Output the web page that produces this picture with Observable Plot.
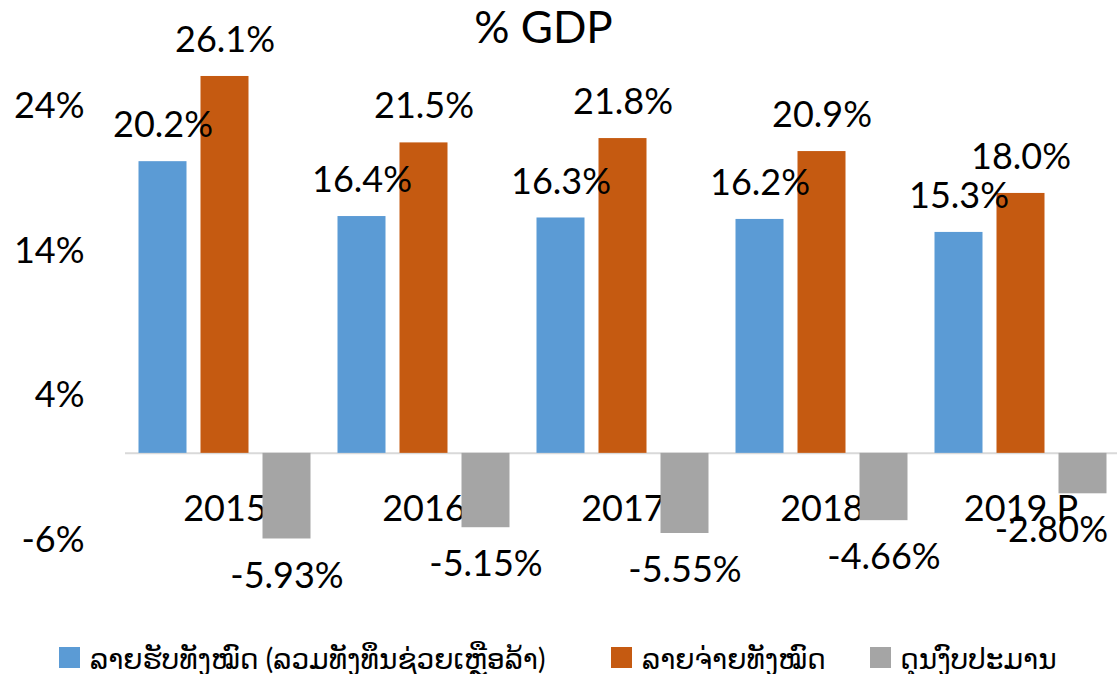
<!DOCTYPE html>
<html>
<head>
<meta charset="utf-8">
<script src="https://cdn.jsdelivr.net/npm/d3@7"></script>
<script src="https://cdn.jsdelivr.net/npm/@observablehq/plot@0.6"></script>
<style>
  html, body { margin: 0; padding: 0; background: #fff; overflow: hidden; }
  #wrap { position: relative; width: 1117px; height: 674px; font-family: Lato, "DejaVu Sans", sans-serif; }
  #title { position: absolute; top: 0; left: 0; width: 1087px; text-align: center; font-size: 44px; line-height: 1.2; color: #000; }
  #chart { position: absolute; top: 0; left: 0; }
  #legend { position: absolute; top: 0; left: 0; width: 1117px; height: 674px; font-size: 28px; color: #000; white-space: nowrap; }
  .sw { position: absolute; top: 647px; width: 21px; height: 21px; }
  .lt { position: absolute; top: 657.5px; transform: translateY(-50%); line-height: 1; }
</style>
</head>
<body>
<div id="wrap">
  <div id="chart"></div>
  <div id="title">% GDP</div>
  <div id="legend"></div>
</div>
<script>
const years = ["2015", "2016", "2017", "2018", "2019 P"];
const revenue = [20.2, 16.4, 16.3, 16.2, 15.3];
const expenditure = [26.1, 21.5, 21.8, 20.9, 18.0];
const balance = [-5.93, -5.15, -5.55, -4.66, -2.80];
const seriesNames = [
  "ລາຍຮັບທັງໝົດ (ລວມທັງທຶນຊ່ວຍເຫຼືອລ້າ)",
  "ລາຍຈ່າຍທັງໝົດ",
  "ດຸນງົບປະມານ"
];
const seriesColors = ["#5B9BD5", "#C55A11", "#A5A5A5"];
const yTicks = [24, 14, 4, -6];

const seriesValues = [revenue, expenditure, balance];
const rows = [];
years.forEach((yr, i) => {
  seriesNames.forEach((s, j) => {
    rows.push({year: yr, series: s, value: seriesValues[j][i], idx: i});
  });
});
const pos = rows.filter(d => d.value >= 0);
const neg = rows.filter(d => d.value < 0);
const lastYear = years[years.length - 1];

const xLeft = 124.5, xRight = 1121;
const facetW = (xRight - xLeft) / years.length;

const chart = Plot.plot({
  width: 1117,
  height: 620,
  marginLeft: xLeft,
  marginRight: 1117 - xRight,
  marginTop: 0,
  marginBottom: 0,
  style: {fontFamily: "Lato, 'DejaVu Sans', sans-serif", fontSize: "36px", color: "#000", background: "transparent"},
  fx: {domain: years, padding: 0, axis: null},
  x: {domain: seriesNames, paddingInner: 0.222, paddingOuter: 0.193, axis: null},
  y: {domain: [-6, 24], range: [539.5, 106.3], ticks: yTicks, tickFormat: d => d + "%", tickSize: 0, tickPadding: 41, label: null},
  color: {domain: seriesNames, range: seriesColors},
  marks: [
    Plot.ruleY([0], {stroke: "#D9D9D9", strokeWidth: 2}),
    Plot.ruleX(years, {fx: d => d, y1: 0, y2: -0.85, dx: -facetW / 2, stroke: "#D9D9D9", strokeWidth: 2}),
    Plot.text(years, {fx: d => d, y: () => 0, text: d => d, dy: 56, fill: "#000"}),
    Plot.barY(rows, {fx: "year", x: "series", y: "value", fill: "series"}),
    Plot.text(pos, {fx: "year", x: "series", y: "value", text: d => d.value.toFixed(1) + "%", dy: -36, fill: "#000"}),
    Plot.text(neg.filter(d => d.year !== lastYear), {fx: "year", x: "series", y: "value", text: d => d.value.toFixed(2) + "%", dy: 37, fill: "#000"}),
    Plot.text(neg.filter(d => d.year === lastYear), {fx: "year", x: "series", y: "value", text: d => d.value.toFixed(2) + "%", dy: 37, dx: 25, textAnchor: "end", fill: "#000"})
  ]
});
document.getElementById("chart").appendChild(chart);

const legendSwatchX = [59, 611, 870];
const legendTextX = [90, 642, 900];
const legend = document.getElementById("legend");
seriesNames.forEach((s, j) => {
  const sw = document.createElement("div");
  sw.className = "sw";
  sw.style.left = legendSwatchX[j] + "px";
  sw.style.background = seriesColors[j];
  const tx = document.createElement("div");
  tx.className = "lt";
  tx.style.left = legendTextX[j] + "px";
  tx.textContent = s;
  legend.appendChild(sw);
  legend.appendChild(tx);
});
</script>
</body>
</html>
